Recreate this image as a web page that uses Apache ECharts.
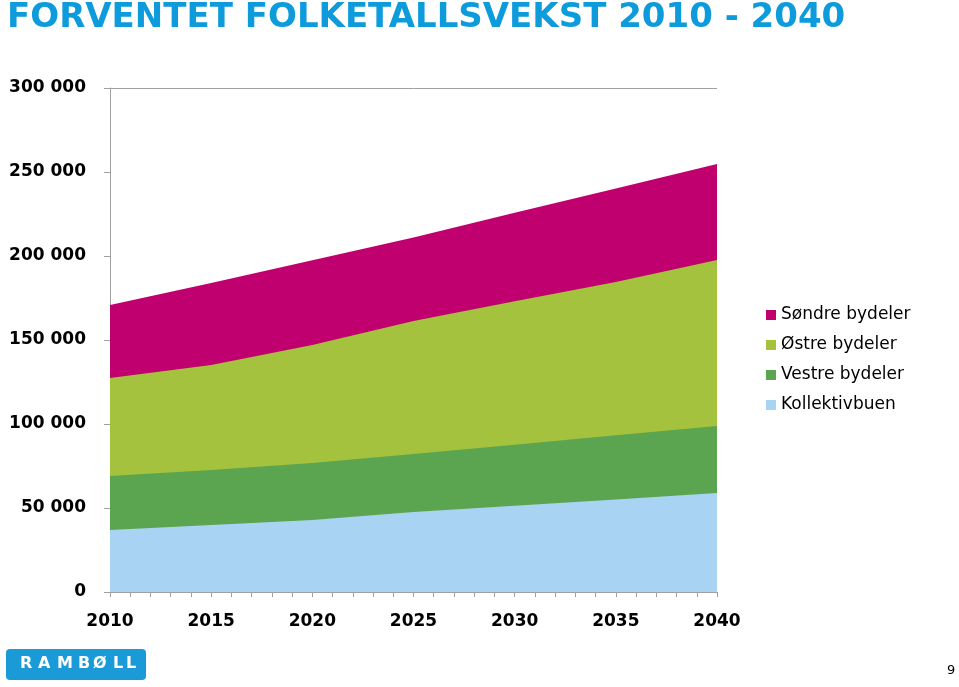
<!DOCTYPE html>
<html>
<head>
<meta charset="utf-8">
<script src="https://cdn.jsdelivr.net/npm/echarts@6/dist/echarts.min.js"></script>
<style>
  html, body { margin: 0; padding: 0; background: #ffffff; }
  #chart { width: 959px; height: 687px; }
</style>
</head>
<body>
<div id="chart"></div>
<script>
const years = [2010, 2015, 2020, 2025, 2030, 2035, 2040];
const kollektivbuen = [36900, 39900, 42900, 47600, 51300, 55100, 58900];
const vestre = [32100, 32700, 33900, 34500, 36400, 38200, 39900];
const ostre = [58400, 62500, 70200, 79200, 85300, 91200, 98800];
const sondre = [43400, 48900, 50500, 49700, 52800, 55700, 57200];
const seriesNames = ['Kollektivbuen', 'Vestre bydeler', 'Østre bydeler', 'Søndre bydeler'];
const legendOrder = ['Søndre bydeler', 'Østre bydeler', 'Vestre bydeler', 'Kollektivbuen'];
const titleText = 'FORVENTET FOLKETALLSVEKST 2010 - 2040';
const logoLetters = ['R', 'A', 'M', 'B', 'Ø', 'L', 'L'];
const pageNumber = '9';

const colors = ['#A9D3F3', '#5CA550', '#A4C23E', '#C1006F'];
const values = [kollektivbuen, vestre, ostre, sondre];
const FONT = 'DejaVu Sans';

// cumulative (stacked) tops, computed from the series values
const cumulative = [];
values.forEach((arr, i) => {
  cumulative.push(arr.map((v, j) => v + (i > 0 ? cumulative[i - 1][j] : 0)));
});

const chart = echarts.init(document.getElementById('chart'), null, { renderer: 'canvas' });

// draw the top layer first so lower layers paint over it
const series = [];
for (let i = values.length - 1; i >= 0; i--) {
  series.push({
    name: seriesNames[i],
    type: 'line',
    symbol: 'none',
    smooth: false,
    z: 2 + (values.length - i),
    lineStyle: { width: 0 },
    areaStyle: { color: colors[i], opacity: 1, origin: 'start' },
    itemStyle: { color: colors[i] },
    data: years.map((y, j) => [y, cumulative[i][j]])
  });
}

const logoX = [20, 38, 57, 78, 93, 113, 126];
const graphics = [
  { type: 'rect', left: 6, top: 649, shape: { width: 140, height: 31, r: 4 }, style: { fill: '#1A9BD7' } }
];
logoLetters.forEach((ch, i) => {
  graphics.push({
    type: 'text', left: logoX[i], top: 656,
    style: { text: ch, fill: '#ffffff', font: 'bold 16px "DejaVu Sans"' }
  });
});
graphics.push({
  type: 'text', left: 947, top: 664,
  style: { text: pageNumber, fill: '#000000', font: '13px "DejaVu Sans"' }
});

chart.setOption({
  animation: false,
  backgroundColor: '#ffffff',
  title: {
    text: titleText,
    left: 2, top: -4,
    textStyle: { color: '#0E9BDB', fontFamily: FONT, fontWeight: 'bold', fontSize: 34 }
  },
  legend: {
    orient: 'vertical',
    left: 766, top: 305,
    padding: 0,
    data: legendOrder,
    icon: 'rect',
    itemWidth: 10, itemHeight: 10,
    itemGap: 10,
    textStyle: { fontFamily: FONT, fontSize: 17, color: '#000', lineHeight: 20 }
  },
  grid: { left: 110, right: 242, top: 88, bottom: 95, containLabel: false },
  xAxis: {
    type: 'value',
    min: 2010, max: 2040, interval: 1,
    axisLine: { show: true, lineStyle: { color: '#A0A0A0', width: 1 } },
    axisTick: { show: true, length: 5, lineStyle: { color: '#A0A0A0' } },
    splitLine: { show: false },
    axisLabel: {
      margin: 21,
      fontFamily: FONT, fontWeight: 'bold', fontSize: 17, color: '#000',
      formatter: v => (v % 5 === 0 ? String(v) : ''),
      showMinLabel: true, showMaxLabel: true
    }
  },
  yAxis: {
    type: 'value',
    min: 0, max: 300000, interval: 50000,
    axisLine: { show: true, lineStyle: { color: '#A0A0A0', width: 1 } },
    axisTick: { show: true, length: 6, lineStyle: { color: '#A0A0A0' } },
    splitLine: { show: true, lineStyle: { color: ['rgba(0,0,0,0)', 'rgba(0,0,0,0)', 'rgba(0,0,0,0)', 'rgba(0,0,0,0)', 'rgba(0,0,0,0)', 'rgba(0,0,0,0)', '#A0A0A0'] } },
    axisLabel: {
      margin: 24,
      padding: [4, 0, 0, 0],
      fontFamily: FONT, fontWeight: 'bold', fontSize: 17, color: '#000',
      formatter: v => String(v).replace(/\B(?=(\d{3})+(?!\d))/g, ' ')
    }
  },
  graphic: graphics,
  series: series
});
</script>
</body>
</html>
